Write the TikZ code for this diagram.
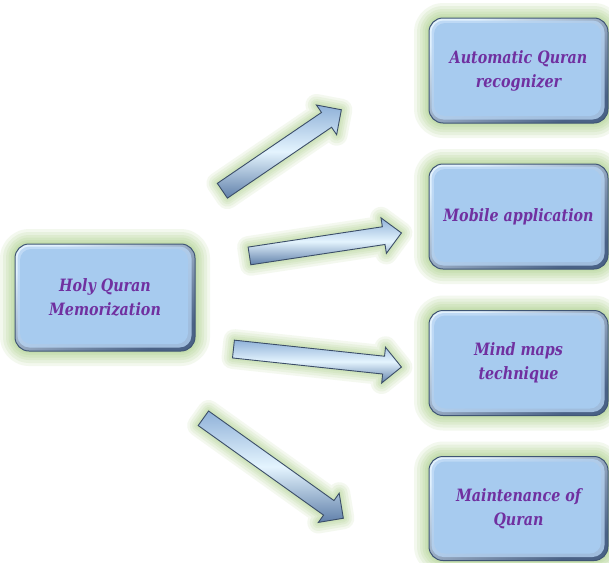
\documentclass[tikz,border=0pt]{standalone}
\usepackage{fontspec}
\setmainfont{DejaVu Serif}[FakeStretch=0.84]
\usetikzlibrary{shapes.arrows,calc}

\definecolor{boxfill}{HTML}{A7CBEF}
\definecolor{boxlight}{HTML}{E2F1FD}
\definecolor{boxdark}{HTML}{4A6286}
\definecolor{boxedge}{HTML}{3F5575}
\definecolor{glowc}{HTML}{A5CD80}
\definecolor{labelc}{HTML}{7030A0}
\definecolor{arrowlight}{HTML}{E4F4FE}
\definecolor{arrowmid}{HTML}{8FB1D8}
\definecolor{arrowdark}{HTML}{6080AA}
\definecolor{arrowedge}{HTML}{3B4D68}

\tikzset{
  glowbox/.style={
    preaction={draw=glowc, fill=none, draw opacity=0.13, line width=30pt, line join=round},
    preaction={draw=glowc, fill=none, draw opacity=0.14, line width=24pt, line join=round},
    preaction={draw=glowc, fill=none, draw opacity=0.15, line width=18pt, line join=round},
    preaction={draw=glowc, fill=none, draw opacity=0.16, line width=13pt, line join=round},
    preaction={draw=glowc, fill=none, draw opacity=0.16, line width=8pt, line join=round},
    preaction={draw=glowc, fill=none, draw opacity=0.16, line width=4pt, line join=round}},
  glowarrow/.style={
    preaction={draw=glowc, fill=none, draw opacity=0.12, line width=22pt, line join=round},
    preaction={draw=glowc, fill=none, draw opacity=0.13, line width=17pt, line join=round},
    preaction={draw=glowc, fill=none, draw opacity=0.14, line width=12pt, line join=round},
    preaction={draw=glowc, fill=none, draw opacity=0.14, line width=8pt, line join=round},
    preaction={draw=glowc, fill=none, draw opacity=0.14, line width=4pt, line join=round}},
  topicbox/.style={
    rectangle, rounded corners=14pt, draw=boxedge, line width=1pt,
    minimum width=179pt, minimum height=105pt, inner sep=0pt,
    top color=boxlight, bottom color=boxdark, shading angle=30,
    glowbox,
    path picture={
      \fill[boxfill!75!boxlight, rounded corners=12pt, opacity=0.8]
        ([xshift=2.5pt,yshift=-2.5pt]path picture bounding box.north west) rectangle
        ([xshift=-3.5pt,yshift=3.5pt]path picture bounding box.south east);
      \fill[boxfill, rounded corners=11pt]
        ([xshift=5pt,yshift=-5pt]path picture bounding box.north west) rectangle
        ([xshift=-7pt,yshift=7pt]path picture bounding box.south east);
    },
    font=\bfseries\itshape\fontsize{17}{24}\selectfont, text=labelc, align=center},
  blockarrow/.style={
    single arrow, draw=arrowedge, line width=0.9pt, line join=miter,
    inner xsep=0pt, inner ysep=8.5pt, single arrow head extend=9pt,
    single arrow tip angle=90, anchor=tail,
    top color=arrowmid, bottom color=arrowdark, middle color=arrowlight,
    glowarrow}
}

% block arrow node running from one named point to another
\newcommand\arrowbetween[3]{%
  \path let \p1=($(#3)-(#2)$), \n1={atan2(\y1,\x1)}, \n2={veclen(\x1,\y1)} in
    node[blockarrow, minimum height=\n2, rotate=\n1] (#1) at (#2) {};
}

\begin{document}
\begin{tikzpicture}[x=1pt, y=-1pt]
  \fill[white] (0,0) rectangle (609,562);
  \useasboundingbox (0,0) rectangle (609,562);

  % central topic
  \node[topicbox, minimum width=180pt, minimum height=107pt] (hqm) at (105,297.5) {Holy Quran\\Memorization};

  % related topics
  \node[topicbox] (aqr) at (518.5,70.5) {Automatic Quran\\recognizer};
  \node[topicbox] (mob) at (518.5,216.5) {Mobile application};
  \node[topicbox] (mmt) at (518.5,363) {Mind maps\\technique};
  \node[topicbox, minimum height=104pt] (mqr) at (518.5,508.5) {Maintenance of\\Quran};

  % arrow end points
  \coordinate (a1s) at (222,191);  \coordinate (a1e) at (341,110);
  \coordinate (a2s) at (249,256);  \coordinate (a2e) at (401,233);
  \coordinate (a3s) at (233,349);  \coordinate (a3e) at (401,367);
  \coordinate (a4s) at (203,418);  \coordinate (a4e) at (343,518);

  \arrowbetween{arr1}{a1s}{a1e}
  \arrowbetween{arr2}{a2s}{a2e}
  \arrowbetween{arr3}{a3s}{a3e}
  \arrowbetween{arr4}{a4s}{a4e}
\end{tikzpicture}
\end{document}
